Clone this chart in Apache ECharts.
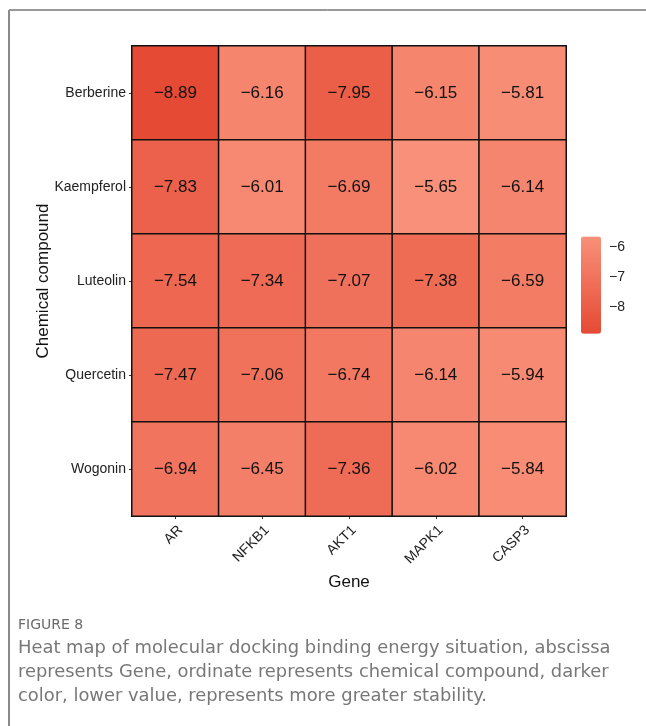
<!DOCTYPE html>
<html>
<head>
<meta charset="utf-8">
<script src="https://cdn.jsdelivr.net/npm/echarts@6/dist/echarts.min.js"></script>
<style>
  html, body { margin: 0; padding: 0; background: #fff; }
  #chart { width: 646px; height: 726px; }
</style>
</head>
<body>
<div id="chart"></div>
<script>
// Molecular docking binding energies (kcal/mol): compounds x genes
const genes = ['AR', 'NFKB1', 'AKT1', 'MAPK1', 'CASP3'];
const compounds = ['Berberine', 'Kaempferol', 'Luteolin', 'Quercetin', 'Wogonin'];
const berberine  = [-8.89, -6.16, -7.95, -6.15, -5.81];
const kaempferol = [-7.83, -6.01, -6.69, -5.65, -6.14];
const luteolin   = [-7.54, -7.34, -7.07, -7.38, -6.59];
const quercetin  = [-7.47, -7.06, -6.74, -6.14, -5.94];
const wogonin    = [-6.94, -6.45, -7.36, -6.02, -5.84];
const legendBreaks = [-8, -7, -6];

const rows = [berberine, kaempferol, luteolin, quercetin, wogonin];
const cells = [];
rows.forEach((vals, r) => vals.forEach((v, c) => cells.push([c, r, v])));
const all = rows.flat();
const vMin = Math.min(...all), vMax = Math.max(...all);
const minus = s => String(s).replace('-', '\u2212');

const FONT = '"Liberation Sans", Arial, sans-serif';
const CAPTION_FONT = '"DejaVu Sans", "Open Sans", sans-serif';
const chart = echarts.init(document.getElementById('chart'), null, { renderer: 'canvas' });

chart.setOption({
  animation: false,
  backgroundColor: '#fff',
  grid: [
    { left: 132, top: 46, width: 434, height: 470 },
    { left: 581, top: 236.5, width: 20, height: 97.2 }
  ],
  xAxis: [
    {
      gridIndex: 0, type: 'category', data: genes,
      name: 'Gene', nameLocation: 'middle', nameGap: 57,
      nameTextStyle: { fontFamily: FONT, fontSize: 17, color: '#111' },
      axisLine: { show: false },
      axisTick: { show: true, alignWithLabel: true, length: 3, lineStyle: { color: '#333' } },
      axisLabel: { rotate: 45, verticalAlign: 'top', fontFamily: FONT, fontSize: 14,
                   color: '#222', margin: 7, interval: 0 },
      splitLine: { show: false }
    },
    { gridIndex: 1, type: 'value', show: false, min: 0, max: 1 }
  ],
  yAxis: [
    {
      gridIndex: 0, type: 'category', data: compounds, inverse: true,
      name: 'Chemical compound', nameLocation: 'middle', nameGap: 80, nameMoveOverlap: false,
      nameTextStyle: { fontFamily: FONT, fontSize: 17, color: '#111' },
      axisLine: { show: false },
      axisTick: { show: true, alignWithLabel: true, length: 3, lineStyle: { color: '#333' } },
      axisLabel: { fontFamily: FONT, fontSize: 14, color: '#222', margin: 6 },
      splitLine: { show: false }
    },
    {
      gridIndex: 1, type: 'value', min: vMin, max: vMax, position: 'right',
      axisLine: { show: false },
      axisTick: { show: true, inside: true, length: 4, customValues: legendBreaks,
                  lineStyle: { color: '#fff', width: 1 } },
      axisLabel: { customValues: legendBreaks, formatter: v => minus(v),
                   fontFamily: FONT, fontSize: 14, color: '#222', margin: 8 },
      splitLine: { show: false }
    },
    {
      gridIndex: 1, type: 'value', min: vMin, max: vMax, position: 'left',
      axisLine: { show: false },
      axisTick: { show: true, inside: true, length: 4, customValues: legendBreaks,
                  lineStyle: { color: '#fff', width: 1 } },
      axisLabel: { show: false },
      splitLine: { show: false }
    }
  ],
  visualMap: {
    type: 'continuous', min: vMin, max: vMax, seriesIndex: 0,
    left: 581, top: 236.5, itemWidth: 20, itemHeight: 97.2, padding: 0,
    calculable: false, text: null, showLabel: false, hoverLink: false,
    inRange: { color: ['#E54A34', '#F99079'] }
  },
  series: [{
    type: 'heatmap', xAxisIndex: 0, yAxisIndex: 0, data: cells,
    itemStyle: { borderColor: '#111', borderWidth: 1.5 },
    label: {
      show: true, fontFamily: FONT, fontSize: 17, color: '#111',
      formatter: p => minus(p.value[2].toFixed(2))
    },
    emphasis: { disabled: true }
  }],
  graphic: [
    { type: 'line', shape: { x1: 9, y1: 10, x2: 646, y2: 10 }, style: { stroke: '#333', lineWidth: 1 } },
    { type: 'line', shape: { x1: 9, y1: 10, x2: 9, y2: 726 }, style: { stroke: '#8a8a8a', lineWidth: 2 } },
    { type: 'text', left: 18, top: 618,
      style: { text: 'FIGURE 8', font: '14px ' + CAPTION_FONT, fill: '#6a6a6a' } },
    { type: 'text', left: 18, top: 636,
      style: {
        text: 'Heat map of molecular docking binding energy situation, abscissa\nrepresents Gene, ordinate represents chemical compound, darker\ncolor, lower value, represents more greater stability.',
        font: '400 17.9px ' + CAPTION_FONT, fill: '#777', lineHeight: 24
      } }
  ]
});
</script>
</body>
</html>
